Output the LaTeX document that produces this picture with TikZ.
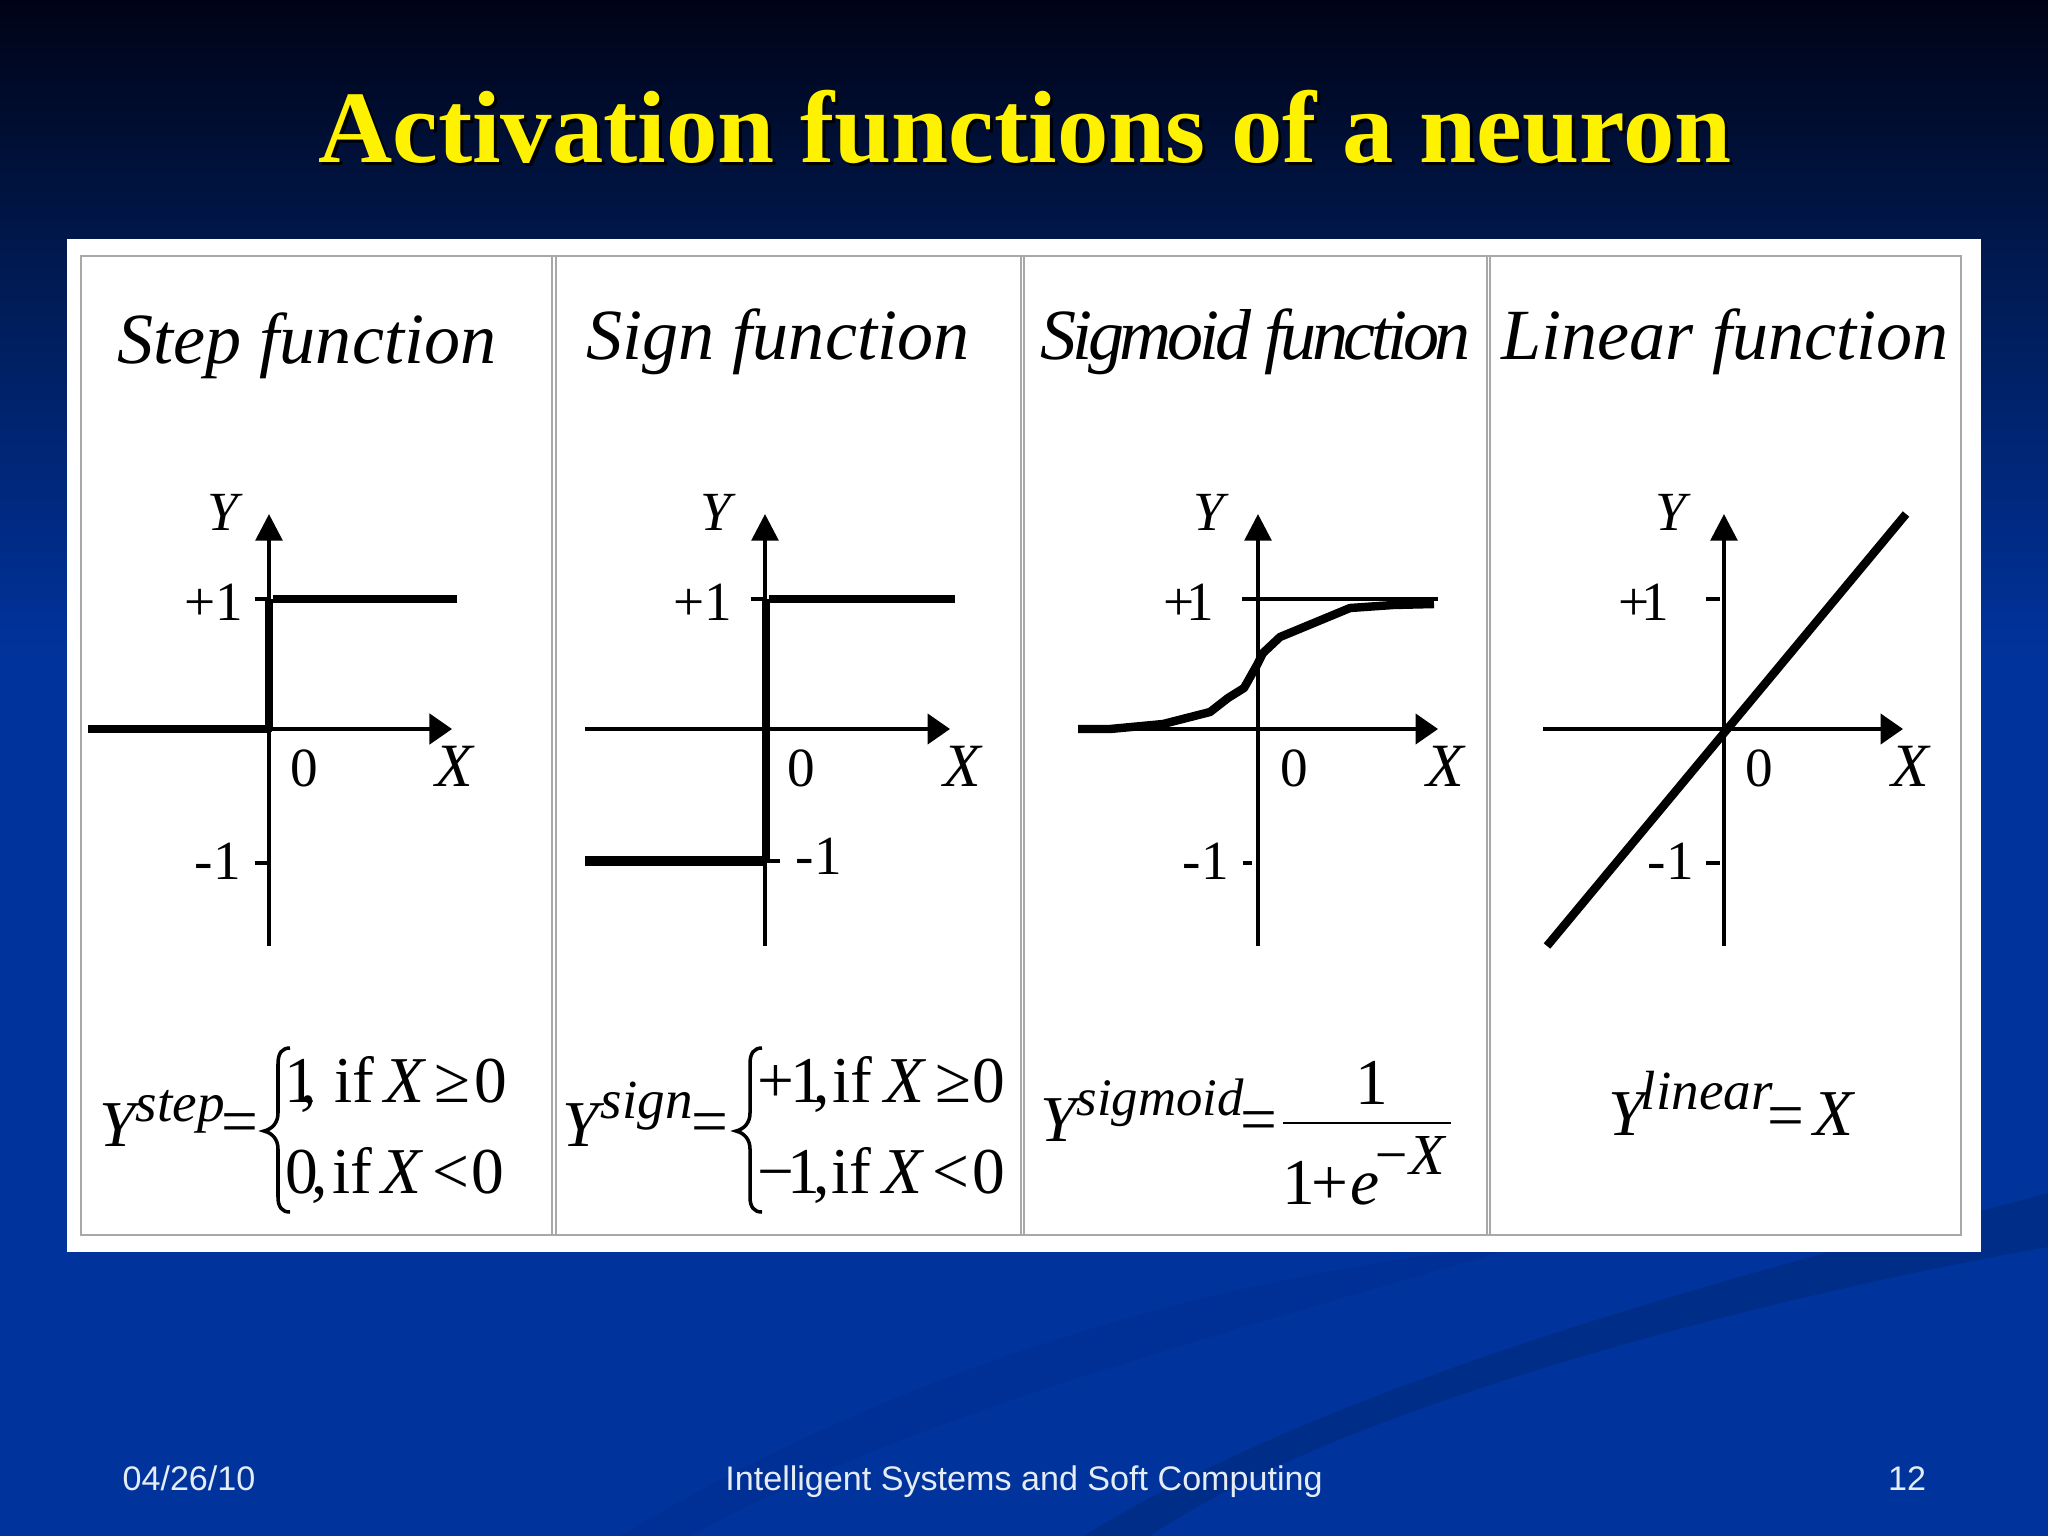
\documentclass[tikz,border=0pt]{standalone}
\usepackage{fontspec}
\usepackage{xcolor}
\usetikzlibrary{arrows.meta}
\setmainfont{Liberation Serif}
\setsansfont{Liberation Sans}
\definecolor{slidetop}{HTML}{000316}
\definecolor{slidemid}{HTML}{001A52}
\definecolor{slideblue}{HTML}{00339C}
\definecolor{swoosh}{HTML}{002D88}
\definecolor{swooshfaint}{HTML}{003095}
\definecolor{framegray}{HTML}{A8A8A8}
\definecolor{footwhite}{HTML}{E4ECF4}
\newcommand{\casebrace}[1]{%
  \draw[bracestroke,xshift=#1*0.01cm] (27,1048) .. controls (19,1048) and (15,1053) .. (15,1064)
    -- (15,1113) .. controls (15,1123) and (9,1129) .. (1,1131)
    .. controls (9,1133) and (15,1139) .. (15,1149)
    -- (15,1197) .. controls (15,1207) and (19,1212) .. (27,1212);}
\begin{document}
\begin{tikzpicture}[
  x=0.01cm, y=-0.01cm,
  axisline/.style={line width=1.1pt},
  yarrow/.style={axisline, -{Triangle[length=7.6pt,width=7.6pt]}},
  xarrow/.style={axisline, -{Triangle[length=6.4pt,width=8.6pt]}},
  tickmark/.style={line width=1pt},
  thickcurve/.style={line width=2pt, line join=round},
  bracestroke/.style={line width=1pt},
  titletext/.style={inner sep=0pt, anchor=base, font=\fontsize{29.2}{34}\selectfont\bfseries},
  plottitle/.style={inner sep=0pt, anchor=base west, font=\fontsize{20.5}{24}\selectfont\itshape},
  axislabel/.style={inner sep=0pt, anchor=base west, font=\fontsize{15.7}{18}\selectfont},
  eqn/.style={inner sep=0pt, anchor=base west, font=\fontsize{18.6}{22}\selectfont},
  eqnsup/.style={inner sep=0pt, anchor=base west, font=\fontsize{15.7}{18}\selectfont\itshape},
  footer/.style={inner sep=0pt, anchor=base, text=footwhite, font=\fontsize{9.7}{12}\selectfont\sffamily}
]
\useasboundingbox (0,0) rectangle (2048,1536);
% background
\fill[slideblue] (0,650) rectangle (2048,1536);
\shade[top color=slidemid, bottom color=slideblue] (0,268) rectangle (2048,652);
\shade[top color=slidetop, bottom color=slidemid] (0,0) rectangle (2048,270);
\fill[swooshfaint] (1450,1252) .. controls (1250,1280) and (950,1340) .. (620,1536)
  -- (690,1536) .. controls (900,1420) and (1200,1340) .. (1500,1252) -- cycle;
\fill[swoosh] (2048,1193) .. controls (1800,1260) and (1350,1370) .. (1084,1536)
  -- (1150,1536) .. controls (1350,1400) and (1800,1290) .. (2048,1247) -- cycle;
% title
\node[titletext, text=black] (titleshadow) at (1028,165) {Activation functions of a neuron};
\node[titletext, text=yellow] (title) at (1025,162) {Activation functions of a neuron};
% panel
\fill[white] (67,239) rectangle (1981,1252);
\draw[framegray, line width=0.45pt] (81,256) rectangle (1961,1235);
\foreach \xp in {552,556,1021,1024,1487,1490}
  \draw[framegray, line width=0.4pt] (\xp,256) -- (\xp,1235);
% panel titles
\node[plottitle] (steptitle) at (117,363) {Step function};
\node[plottitle] (signtitle) at (586,359) {Sign function};
\node[plottitle, font=\fontsize{20.5}{24}\selectfont\itshape\addfontfeatures{LetterSpace=-6}] (sigtitle) at (1040,359) {Sigmoid function};
\node[plottitle] (lintitle) at (1501,359) {Linear function};
% axes
\foreach \ax/\xl/\xr in {269/88/452, 765/585/950, 1258/1078/1438, 1724/1543/1903} {
  \draw[yarrow] (\ax,946) -- (\ax,514);
  \draw[xarrow] (\xl,729) -- (\xr,729);
}
% ticks
\draw[tickmark] (255,599) -- (269,599) (255,863) -- (269,863);
\draw[tickmark] (751,599) -- (765,599) (765,861) -- (780,861);
\draw[tickmark] (1242,599) -- (1438,599) (1243,863) -- (1252,863);
\draw[tickmark] (1706,599) -- (1720,599) (1706,863) -- (1720,863);
% functions
\draw[thickcurve] (88,729) -- (269,729) -- (269,599);
\draw[thickcurve] (273,599) -- (457,599);
\draw[thickcurve] (769,599) -- (955,599);
\draw[thickcurve] (766,599) -- (766,861);
\draw[thickcurve, line width=2.6pt] (585,861) -- (766,861);
\draw[thickcurve, line width=2.4pt] (1078,729) -- (1110,729) -- (1163,724) -- (1210,712) -- (1228,698) -- (1244,688)
  -- (1257,665) -- (1263,653) -- (1280,637) -- (1350,608) -- (1393,605) -- (1434,604);
\draw[thickcurve, line width=2.4pt] (1547,946) -- (1906,514);
% axis labels
\foreach \pname/\yx/\pl/\pk/\zx/\xx/\ml/\my in {st/207/184/0/290/435/194/879, si/700/673/0/787/943/795/874, sg/1193/1163/-2.5/1280/1426/1182/879, li/1655/1618/-2.3/1745/1891/1647/879} {
  \node[axislabel] (\pname Y) at (\yx,530) {\textit{Y}};
  \node[axislabel] (\pname P) at (\pl,620) {+\kern\pk pt 1};
  \node[axislabel] (\pname Z) at (\zx,786) {0};
  \node[axislabel, font=\fontsize{17.5}{20}\selectfont] (\pname X) at (\xx,786) {\textit{X}};
  \node[axislabel] (\pname M) at (\ml,\my) {-1};
}
% step formula
\node[eqn] (stepy) at (99,1146) {\textit{Y}};
\node[eqnsup] (stepsup) at (135,1121) {step};
\node[eqn] (stepeq) at (221,1143) {=};
\casebrace{263}
\foreach \xp/\txt in {284/1, 300/{,}, 334/if, 384/\textit{X}, 434/≥, 474/0}
  \node[eqn] (stepa\xp) at (\xp,1102) {\txt};
\foreach \xp/\txt in {285/0, 311/{,}, 332/if, 381/\textit{X}, 432/<, 471/0}
  \node[eqn] (stepb\xp) at (\xp,1193) {\txt};
% sign formula
\node[eqn] (signy) at (562,1146) {\textit{Y}};
\node[eqnsup] (signsup) at (600,1118) {sign};
\node[eqn] (signeq) at (691,1143) {=};
\casebrace{735}
\foreach \xp/\txt in {757/+, 790/1, 813/{,}, 832/if, 884/\textit{X}, 935/≥, 972/0}
  \node[eqn] (signa\xp) at (\xp,1102) {\txt};
\foreach \xp/\txt in {757/−, 787/1, 813/{,}, 831/if, 882/\textit{X}, 932/<, 972/0}
  \node[eqn] (signb\xp) at (\xp,1193) {\txt};
% sigmoid formula
\node[eqn] (sigy) at (1040,1141) {\textit{Y}};
\node[eqnsup, font=\fontsize{15}{18}\selectfont\itshape] (sigsup) at (1076,1115) {sigmoid};
\node[eqn] (sigeq) at (1240,1141) {=};
\draw[tickmark, line width=0.5pt] (1283,1123) -- (1451,1123);
\node[eqn] (signum) at (1355,1104) {1};
\foreach \xp/\txt in {1282/1, 1311/+, 1350/\textit{e}}
  \node[eqn] (sigd\xp) at (\xp,1204) {\txt};
\node[eqnsup, font=\fontsize{16.5}{20}\selectfont\itshape] (sigexp) at (1371,1174) {−\kern-0.5pt X};
% linear formula
\node[eqn] (liny) at (1608,1135) {\textit{Y}};
\node[eqnsup] (linsup) at (1640,1109) {linear};
\node[eqn] (lineq) at (1767,1137) {=};
\node[eqn] (linx) at (1813,1135) {\textit{X}};
% footer
\node[footer] (fdate) at (189,1490) {04/26/10};
\node[footer] (fname) at (1024,1490) {Intelligent Systems and Soft Computing};
\node[footer] (fpage) at (1907,1490) {12};
\end{tikzpicture}
\end{document}
